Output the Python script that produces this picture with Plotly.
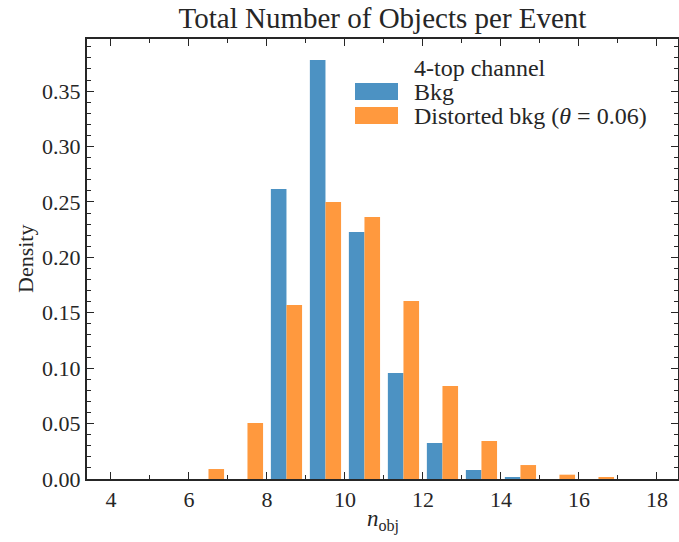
import plotly.graph_objects as go

# Histogram bins: [n, n+1) for n = 4..17
bin_left = list(range(4, 18))
bkg = [0, 0, 0, 0, 0.2616, 0.378, 0.2228, 0.0956, 0.0325, 0.0081, 0.0018, 0, 0, 0]
distorted = [0, 0, 0.009, 0.0505, 0.157, 0.2499, 0.2363, 0.1606, 0.0839, 0.0343, 0.0126, 0.0039, 0.0012, 0]
series_names = ["Bkg", "Distorted bkg (<i>θ</i> = 0.06)"]
legend_title = "4-top channel"
x_ticks = [4, 6, 8, 10, 12, 14, 16, 18]
y_ticks = [0.0, 0.05, 0.10, 0.15, 0.20, 0.25, 0.30, 0.35]

BLUE = "#4C92C3"
ORANGE = "#FF993E"
FONT = "Liberation Serif"
INK = "#262626"

centers = [b + 0.5 for b in bin_left]

fig = go.Figure()
fig.add_trace(go.Bar(x=centers, y=bkg, name=series_names[0],
                     marker=dict(color=BLUE, line=dict(width=0))))
fig.add_trace(go.Bar(x=centers, y=distorted, name=series_names[1],
                     marker=dict(color=ORANGE, line=dict(width=0))))

L, R, T, B = 87, 1, 39, 63
W, H = 679, 542
pw = W - L - R
ph = H - T - B

def px(xp):
    return (xp - L) / pw

def py(yp):
    return (H - B - yp) / ph

axis_common = dict(
    showline=True, linecolor=INK, linewidth=2, mirror="allticks",
    ticks="inside", ticklen=7, tickwidth=1.2, tickcolor=INK,
    showgrid=False, zeroline=False, automargin=False,
    tickfont=dict(family=FONT, size=22, color=INK),
)

fig.update_layout(
    width=W, height=H,
    margin=dict(l=L, r=R, t=T, b=B, autoexpand=False),
    paper_bgcolor="white", plot_bgcolor="white",
    barmode="group", bargap=0.2, bargroupgap=0,
    showlegend=False,
    title=dict(text="Total Number of Objects per Event", x=(L + pw / 2) / W, xanchor="center",
               y=1 - 18 / H, yanchor="middle", automargin=False,
               font=dict(family=FONT, size=29, color=INK)),
    xaxis=dict(range=[3.385, 18.54], tickvals=x_ticks, ticktext=[str(v) for v in x_ticks],
               minor=dict(dtick=1, tick0=0, ticks="inside", ticklen=4, tickcolor=INK, tickwidth=1),
               **axis_common),
    yaxis=dict(range=[0, 0.397], tickvals=y_ticks, ticktext=[f"{v:.2f}" for v in y_ticks],
               minor=dict(dtick=0.01, tick0=0, ticks="inside", ticklen=4, tickcolor=INK, tickwidth=1),
               **axis_common),
)

# Axis labels
fig.add_annotation(text="<i>n</i><sub>obj</sub>", xref="paper", yref="paper",
                   x=px(383), y=py(520), xanchor="center", yanchor="middle", showarrow=False,
                   font=dict(family=FONT, size=23, color=INK))
fig.add_annotation(text="Density", xref="paper", yref="paper", textangle=-90,
                   x=px(25), y=py(259), xanchor="center", yanchor="middle", showarrow=False,
                   font=dict(family=FONT, size=22, color=INK))

# Manual legend (matplotlib style, no frame)
fig.add_annotation(text=legend_title, xref="paper", yref="paper", x=px(412), y=py(68),
                   xanchor="left", yanchor="middle", showarrow=False,
                   font=dict(family=FONT, size=24, color=INK))
for i, (name, col) in enumerate(zip(series_names, [BLUE, ORANGE])):
    y0 = 83 + 24 * i
    fig.add_shape(type="rect", xref="paper", yref="paper",
                  x0=px(355), x1=px(398), y0=py(y0), y1=py(y0 + 17),
                  fillcolor=col, line=dict(width=0))
    fig.add_annotation(text=name, xref="paper", yref="paper", x=px(412), y=py(y0 + 9),
                       xanchor="left", yanchor="middle", showarrow=False,
                       font=dict(family=FONT, size=24, color=INK))

fig.write_html("out.html", config={"displayModeBar": False},
               post_script="document.body.style.margin='0';document.body.style.overflow='hidden';")
